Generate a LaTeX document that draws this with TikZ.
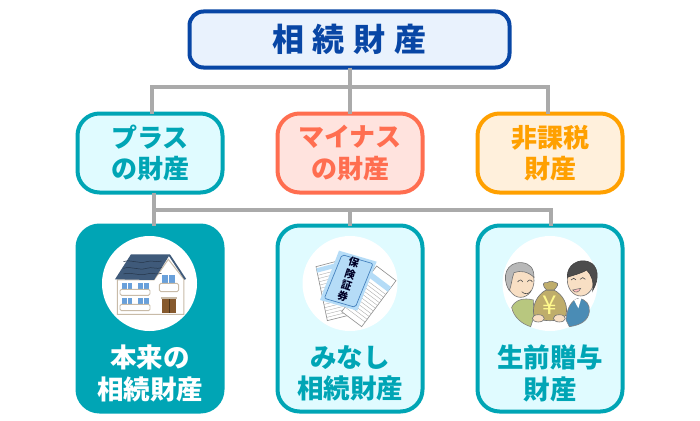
\documentclass[tikz,border=0pt]{standalone}
\usepackage{fontspec}
\setmainfont{Noto Sans CJK JP}
\usetikzlibrary{positioning, calc}
\definecolor{TotalColor}{RGB}{8, 70, 165}
\definecolor{TotalFill}{RGB}{233, 242, 253}
\definecolor{TealColor}{RGB}{0, 165, 181}
\definecolor{TealFill}{RGB}{224, 251, 255}
\definecolor{MinusColor}{RGB}{255, 110, 80}
\definecolor{MinusFill}{RGB}{255, 227, 222}
\definecolor{ExemptColor}{RGB}{255, 160, 0}
\definecolor{ExemptFill}{RGB}{255, 240, 220}
\definecolor{ConnectorColor}{RGB}{170, 170, 170}
\definecolor{WallLine}{RGB}{200, 187, 168}
\definecolor{RoofColor}{RGB}{63, 90, 122}
\definecolor{GlassColor}{RGB}{105, 160, 218}
\definecolor{CertColor}{RGB}{181, 220, 247}
\definecolor{CertLine}{RGB}{70, 130, 190}
\definecolor{SkinColor}{RGB}{248, 223, 196}
\definecolor{BagColor}{RGB}{191, 173, 107}
\definecolor{ShirtColor}{RGB}{184, 199, 127}
\definecolor{JacketColor}{RGB}{74, 140, 181}

\begin{document}
\begin{tikzpicture}[
    x=1pt, y=-1pt,
    box/.style={
        draw,
        line width=4pt,
        inner sep=0pt,
        outer sep=0pt,
        align=center,
        font=\fontsize{26}{31.5}\selectfont\bfseries
    },
    group/.style={box, minimum width=145pt, minimum height=79pt, rounded corners=22pt},
    detail/.style={box, minimum width=145pt, minimum height=186pt, rounded corners=22pt},
    total/.style={box, draw=TotalColor, fill=TotalFill, text=TotalColor, minimum width=320pt, minimum height=56pt, rounded corners=14pt, font=\fontsize{32}{36}\selectfont\bfseries},
    teal/.style={draw=TealColor, fill=TealFill, text=TealColor},
    minus/.style={draw=MinusColor, fill=MinusFill, text=MinusColor},
    exempt/.style={draw=ExemptColor, fill=ExemptFill, text=ExemptColor},
    caption/.style={inner sep=0pt, align=center, font=\fontsize{26.5}{31.5}\selectfont\bfseries},
    connector/.style={draw=ConnectorColor, line width=4pt},
    photo/.style={fill=white, draw=none},
    thin line/.style={line width=0.6pt}
]
\useasboundingbox (0,0) rectangle (700,420);

% Top box
\node[total] at (349.5, 39.5) (inheritance) {相\hspace{9pt}続\hspace{9pt}財\hspace{9pt}産};

% Group row
\node[group, teal] at (150, 153) (plus) {プラス\\の財産};
\node[group, minus, right=55pt of plus] (minusasset) {マイナス\\の財産};
\node[group, exempt, right=55pt of minusasset] (exemptasset) {非課税\\財産};

% Detail row
\node[detail, draw=TealColor, fill=TealColor, below=33pt of plus] (original) {};
\node[detail, teal, below=33pt of minusasset] (deemed) {};
\node[detail, teal, below=33pt of exemptasset] (gift) {};

% Connections from the top box
\coordinate (upperbus) at ($(inheritance.south)+(0,19.5)$);
\draw[connector] (inheritance.south) -- (upperbus);
\draw[connector] ([xshift=2pt]plus.north) |- (upperbus) -| ([xshift=-2pt]exemptasset.north);
\draw[connector] (minusasset.north) -- (minusasset.north |- upperbus);

% Connections to the detail row
\coordinate (lowerbus) at ($(plus.south)+(0,17.5)$);
\draw[connector] ([xshift=4pt]plus.south) -- ([xshift=4pt]original.north);
\draw[connector] ([xshift=4pt]plus.south |- lowerbus) -| ([xshift=1pt]gift.north);
\draw[connector] (deemed.north) -- (deemed.north |- lowerbus);

% White circles
\node[photo, circle, minimum size=95pt, inner sep=0pt] at (149.5, 283.5) (housecircle) {};
\node[photo, circle, minimum size=95pt, inner sep=0pt] at (350, 283.5) (papercircle) {};
\node[photo, circle, minimum size=95pt, inner sep=0pt] at (550, 283.5) (peoplecircle) {};

% House
\begin{scope}[shift={(60,220)}, x=0.3333pt, y=-0.3333pt]
    \draw[fill=white, draw=WallLine, line width=1pt] (172,180) -- (282,180) -- (325,118) -- (372,178) -- (372,283) -- (172,283) -- cycle;
    \fill[RoofColor] (213,103) -- (330,103) -- (282,180) -- (165,178) -- cycle;
    \draw[RoofColor, line width=1.8pt] (328,105) -- (376,178);
    \foreach \y in {125,145,162}
        \draw[black!40!RoofColor, line width=0.5pt] (190,\y) .. controls (215,\y-8) and (235,\y+8) .. (260,\y) .. controls (275,\y-6) and (290,\y+4) .. (305,\y-2);
    \foreach \x/\y in {185/190, 235/190, 185/234, 235/234} {
        \fill[GlassColor] (\x,\y) rectangle (\x+32,\y+20);
        \draw[white, line width=0.5pt] (\x+16,\y) -- (\x+16,\y+20);
    }
    \fill[GlassColor] (307,165) rectangle (346,190);
    \draw[white, line width=0.5pt] (326,165) -- (326,190);
    \draw[fill=white, draw=WallLine, line width=0.9pt, rounded corners=1.5pt] (180,208) rectangle (270,226);
    \draw[fill=white, draw=WallLine, line width=0.9pt, rounded corners=1.5pt] (180,253) rectangle (270,272);
    \draw[fill=white, draw=WallLine, line width=0.9pt, rounded corners=1.5pt] (298,190) rectangle (356,215);
    \fill[brown!70!black] (307,238) rectangle (347,280);
    \draw[brown!40!black, line width=0.4pt] (327,238) -- (327,280);
    \fill[WallLine] (303,231) rectangle (351,238);
\end{scope}

% Insurance papers
\begin{scope}[shift={(270,220)}, x=0.3333pt, y=-0.3333pt]
    \draw[fill=white, draw=black!45, thin line] (138,140) -- (195,125) -- (240,285) -- (172,302) -- cycle;
    \fill[CertColor] ($(138,140)!0.03!(172,302)$) -- ($(195,125)!0.03!(240,285)$) -- ($(195,125)!0.11!(240,285)$) -- ($(138,140)!0.11!(172,302)$) -- cycle;
    \foreach \t in {0.16,0.22,...,0.95}
        \draw[black!35, line width=0.35pt] ($(138,140)!\t!(172,302)$) -- ($(195,125)!\t!(240,285)$);
    \draw[fill=white, draw=black!45, thin line] (320,138) -- (378,182) -- (275,320) -- (215,275) -- cycle;
    \fill[CertColor] ($(320,138)!0.14!(215,275)$) -- ($(378,182)!0.14!(275,320)$) -- ($(378,182)!0.24!(275,320)$) -- ($(320,138)!0.24!(215,275)$) -- cycle;
    \foreach \t in {0.3,0.36,...,0.95}
        \draw[black!35, line width=0.35pt] ($(320,138)!\t!(215,275)$) -- ($(378,182)!\t!(275,320)$);
    \fill[CertColor] (207,92) -- (320,125) -- (262,272) -- (150,240) -- cycle;
    \draw[CertLine, line width=0.7pt, rounded corners=2pt] (216,104) -- (309,131) -- (256,262) -- (163,235) -- cycle;
    \node[rotate=-18, inner sep=0pt, align=center, text=black!85!blue, font=\fontsize{10.5}{12}\selectfont\bfseries] at (235,179) (certtitle) {保\\険\\証\\券};
\end{scope}

% Two people and the money bag
\begin{scope}[shift={(470,220)}, x=0.3333pt, y=-0.3333pt]
    % older man
    \draw[fill=ShirtColor, draw=black!50, thin line] (125,262) .. controls (135,240) and (160,232) .. (190,240) -- (192,290) -- (182,320) .. controls (155,312) and (130,290) .. (125,262) -- cycle;
    \draw[fill=SkinColor, draw=black!55, thin line] (152,182) ellipse [x radius=40, y radius=50];
    \draw[fill=black!28, draw=black!55, thin line] (118,212) .. controls (92,170) and (110,125) .. (155,128) .. controls (180,130) and (192,145) .. (192,172) .. controls (175,155) and (150,150) .. (132,158) .. controls (125,175) and (125,195) .. (118,212) -- cycle;
    \draw[black!70, line width=0.6pt] (143,186) .. controls (148,178) and (155,178) .. (158,186);
    \draw[black!70, line width=0.6pt] (172,186) .. controls (176,178) and (183,178) .. (187,186);
    \draw[black!70, line width=0.6pt] (155,215) .. controls (165,225) and (178,222) .. (183,212);
    % younger man
    \draw[fill=JacketColor, draw=black!50, thin line] (288,300) .. controls (290,265) and (305,240) .. (325,235) .. controls (350,238) and (360,255) .. (358,275) .. controls (355,300) and (335,315) .. (298,320) -- cycle;
    \fill[white] (312,240) -- (335,232) -- (325,265) -- cycle;
    \draw[fill=SkinColor, draw=black!55, thin line] (332,180) ellipse [x radius=40, y radius=48];
    \draw[fill=black!70, draw=black!75, thin line] (292,172) .. controls (290,135) and (325,115) .. (355,125) .. controls (385,135) and (390,175) .. (368,212) .. controls (372,185) and (365,165) .. (350,150) .. controls (330,162) and (310,165) .. (292,172) -- cycle;
    \draw[black!70, line width=0.6pt] (303,180) .. controls (308,173) and (315,173) .. (318,180);
    \draw[black!70, line width=0.6pt] (330,178) .. controls (335,171) and (342,171) .. (346,178);
    \draw[fill=red!25!white, draw=black!60, line width=0.5pt] (308,210) .. controls (315,220) and (327,218) .. (332,205) -- cycle;
    % money bag
    \draw[fill=BagColor, draw=black!55, thin line] (228,210) .. controls (200,225) and (185,260) .. (192,285) .. controls (200,308) and (280,308) .. (288,285) .. controls (295,255) and (280,225) .. (252,210) -- cycle;
    \draw[fill=BagColor, draw=black!55, thin line] (230,210) .. controls (215,195) and (218,185) .. (232,188) .. controls (240,180) and (250,185) .. (258,188) .. controls (268,190) and (262,200) .. (252,210) -- cycle;
    \node[inner sep=0pt, text=yellow!45!white, font=\fontsize{26}{26}\selectfont] at (240,256) (yenmark) {¥};
    % hands
    \draw[fill=SkinColor, draw=black!55, thin line] (205,295) ellipse [x radius=18, y radius=11];
    \draw[fill=SkinColor, draw=black!55, thin line] (268,295) ellipse [x radius=18, y radius=11];
\end{scope}

% Detail captions
\node[caption, text=white] at (150, 373.5) (originaltext) {本来の\\相続財産};
\node[caption, text=TealColor] at (350, 373.5) (deemedtext) {みなし\\相続財産};
\node[caption, text=TealColor] at (550, 373.5) (gifttext) {生前贈与\\財産};

\end{tikzpicture}
\end{document}
